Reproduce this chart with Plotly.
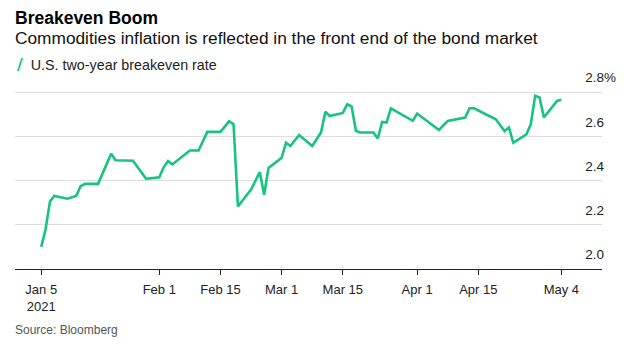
import plotly.graph_objects as go

# ---- data ----
dates = [
    "2021-01-05", "2021-01-06", "2021-01-07", "2021-01-08", "2021-01-11", "2021-01-13",
    "2021-01-14", "2021-01-15", "2021-01-18", "2021-01-21", "2021-01-22", "2021-01-25",
    "2021-01-26", "2021-01-29", "2021-02-01", "2021-02-02", "2021-02-03", "2021-02-04",
    "2021-02-08", "2021-02-10", "2021-02-12", "2021-02-15", "2021-02-17", "2021-02-18",
    "2021-02-19", "2021-02-22", "2021-02-24", "2021-02-25", "2021-02-26", "2021-03-01",
    "2021-03-02", "2021-03-03", "2021-03-05", "2021-03-08", "2021-03-10", "2021-03-11",
    "2021-03-12", "2021-03-15", "2021-03-16", "2021-03-17", "2021-03-18", "2021-03-19",
    "2021-03-22", "2021-03-23", "2021-03-24", "2021-03-25", "2021-03-26", "2021-03-31",
    "2021-04-01", "2021-04-06", "2021-04-08", "2021-04-12", "2021-04-13", "2021-04-14",
    "2021-04-19", "2021-04-21", "2021-04-22", "2021-04-23", "2021-04-26", "2021-04-27",
    "2021-04-28", "2021-04-29", "2021-04-30", "2021-05-03", "2021-05-04",
]
breakeven = [
    2.10, 2.18, 2.305, 2.33, 2.318, 2.33,
    2.374, 2.385, 2.385, 2.521, 2.492, 2.49,
    2.49, 2.408, 2.415, 2.46, 2.488, 2.473,
    2.536, 2.536, 2.62, 2.62, 2.668, 2.655,
    2.283, 2.359, 2.438, 2.336, 2.457, 2.503,
    2.571, 2.556, 2.606, 2.556, 2.617, 2.711,
    2.692, 2.706, 2.745, 2.735, 2.624, 2.617,
    2.617, 2.59, 2.665, 2.662, 2.726, 2.67,
    2.703, 2.629, 2.67, 2.685, 2.727, 2.727,
    2.677, 2.624, 2.64, 2.571, 2.609, 2.655,
    2.783, 2.776, 2.685, 2.76, 2.765,
]

x_tick_dates = ["2021-01-05", "2021-02-01", "2021-02-15", "2021-03-01",
                "2021-03-15", "2021-04-01", "2021-04-15", "2021-05-04"]
x_tick_labels = ["Jan 5<br>2021", "Feb 1", "Feb 15", "Mar 1",
                 "Mar 15", "Apr 1", "Apr 15", "May 4"]
y_tick_vals = [2.0, 2.2, 2.4, 2.6, 2.8]
y_tick_labels = ["2.0", "2.2", "2.4", "2.6", "2.8%"]

title = "Breakeven Boom"
subtitle = "Commodities inflation is reflected in the front end of the bond market"
series_name = "U.S. two-year breakeven rate"
source = "Source: Bloomberg"

GREEN = "#17c47f"
FONT = "Liberation Sans, Arial, sans-serif"
HIDE = "<span style='color:rgba(0,0,0,0)'>%</span>"

y_text = [t if t.endswith("%") else t + HIDE for t in y_tick_labels]

fig = go.Figure()
fig.add_trace(go.Scatter(
    x=dates, y=breakeven, mode="lines", name=series_name,
    line=dict(color=GREEN, width=2.6), showlegend=False,
))

fig.update_layout(
    width=624, height=345,
    margin=dict(l=15, r=22, t=70, b=76, autoexpand=False),
    paper_bgcolor="white", plot_bgcolor="white",
    font=dict(family=FONT, size=13, color="#222"),
    xaxis=dict(
        type="date",
        range=["2020-12-30", "2021-05-13 07:00"],
        tickvals=x_tick_dates, ticktext=x_tick_labels,
        showgrid=False, zeroline=False,
        showline=True, linecolor="#222", linewidth=1.2,
        ticks="outside", ticklen=5, tickcolor="#222", tickwidth=1,
        ticklabelstandoff=3, automargin=False,
        tickfont=dict(size=13, color="#222"),
    ),
    yaxis=dict(
        range=[2.0, 2.9], side="right",
        tickvals=y_tick_vals, ticktext=y_text,
        ticklabelposition="inside top",
        ticklabelshift=-5, ticklabelstandoff=-17, automargin=False,
        showgrid=True, gridcolor="#dedede", gridwidth=1,
        zeroline=False, showline=False, ticks="",
        tickfont=dict(size=13.5, color="#222"),
    ),
    annotations=[
        dict(text="<b>" + title + "</b>", xref="paper", yref="paper",
             x=-0.003, y=1.261, xanchor="left", yanchor="middle", showarrow=False,
             font=dict(size=17.5, color="#000", family=FONT)),
        dict(text=subtitle, xref="paper", yref="paper",
             x=-0.003, y=1.163, xanchor="left", yanchor="middle", showarrow=False,
             font=dict(size=17.3, color="#111", family=FONT)),
        dict(text="<span style='color:" + GREEN + "; font-family:DejaVu Sans; font-size:16px'><b>/</b></span>  " + series_name,
             xref="paper", yref="paper",
             x=0.0, y=1.03, xanchor="left", yanchor="middle", showarrow=False,
             font=dict(size=14.3, color="#222", family=FONT)),
        dict(text=source, xref="paper", yref="paper",
             x=-0.003, y=-0.307, xanchor="left", yanchor="middle", showarrow=False,
             font=dict(size=12, color="#555", family=FONT)),
    ],
)

fig.write_html("out.html")
